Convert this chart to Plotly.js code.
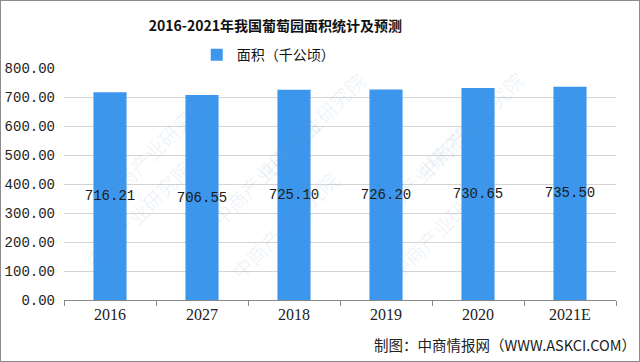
<!DOCTYPE html>
<html>
<head>
<meta charset="utf-8">
<script src="https://cdn.plot.ly/plotly-3.0.1.min.js"></script>
<style>
html,body{margin:0;padding:0;background:#fff;}
#chart{width:638px;height:360px;border:1px solid #8c8c8c;}
</style>
</head>
<body>
<div id="chart"></div>
<script>
const categories = ['2016', '2027', '2018', '2019', '2020', '2021E'];
const areaValues = [716.21, 706.55, 725.10, 726.20, 730.65, 735.50];
const seriesName = '面积（千公顷）';
const chartTitle = '2016-2021年我国葡萄园面积统计及预测';
const sourceText = '制图：中商情报网（WWW.ASKCI.COM）';
const watermarkText = '中商产业研究院';

const trace = {
  type: 'bar',
  x: categories,
  y: areaValues,
  name: seriesName,
  marker: {color: '#3b96ec'},
  width: 0.36,
  text: areaValues.map(v => v.toFixed(2)),
  textposition: 'inside',
  insidetextanchor: 'middle',
  textangle: 0,
  constraintext: 'none',
  textfont: {family: 'Liberation Mono, DejaVu Sans Mono, monospace', size: 14, color: '#1a1a1a'},
  hoverinfo: 'x+y'
};

const wmPositions = [[0.05,0.92],[0.45,1.02],[0.85,1.02],[0.25,0.55],[0.65,0.55],[0.02,0.10],[0.40,0.05],[0.80,0.05]];
const watermarks = wmPositions.map(p => ({
  xref: 'paper', yref: 'paper', x: p[0], y: p[1],
  text: watermarkText, showarrow: false, textangle: -45,
  font: {family: 'Noto Sans CJK SC', size: 20, color: 'rgba(120,160,210,0.12)'}
}));

const layout = {
  width: 638, height: 360,
  margin: {l: 63, r: 23, t: 67, b: 61},
  paper_bgcolor: '#ffffff',
  plot_bgcolor: '#ffffff',
  title: {
    text: '<b>' + chartTitle + '</b>',
    x: 0.43, xanchor: 'center', y: 0.93, yanchor: 'middle',
    font: {family: 'Noto Sans CJK SC, Liberation Serif', size: 14, color: '#111'}
  },
  showlegend: true,
  legend: {
    orientation: 'h', x: 0.37, xanchor: 'center', y: 1.055, yanchor: 'middle',
    font: {family: 'Noto Sans CJK SC', size: 14, color: '#111'},
    itemwidth: 30, bgcolor: 'rgba(0,0,0,0)'
  },
  xaxis: {
    type: 'category',
    showline: true, linecolor: '#8a8a8a', linewidth: 1,
    ticks: 'outside', tickson: 'boundaries', ticklen: 5, tickcolor: '#8a8a8a',
    showgrid: false,
    tickfont: {family: 'Liberation Serif, serif', size: 16, color: '#222'}
  },
  yaxis: {
    range: [0, 800], dtick: 100, tickformat: '.2f',
    showline: false, zeroline: false,
    gridcolor: '#d4d4d4', gridwidth: 1,
    ticks: '', ticklabelstandoff: 8,
    tickfont: {family: 'Liberation Mono, DejaVu Sans Mono, monospace', size: 14, color: '#222'}
  },
  bargap: 0.64,
  annotations: watermarks.concat([{
    xref: 'paper', yref: 'paper', x: 1.04, y: -0.19, xanchor: 'right', yanchor: 'middle',
    text: sourceText, showarrow: false,
    font: {family: 'Noto Sans CJK SC', size: 14.5, color: '#222'}
  }])
};

Plotly.newPlot('chart', [trace], layout, {displayModeBar: false, staticPlot: true});
</script>
</body>
</html>
